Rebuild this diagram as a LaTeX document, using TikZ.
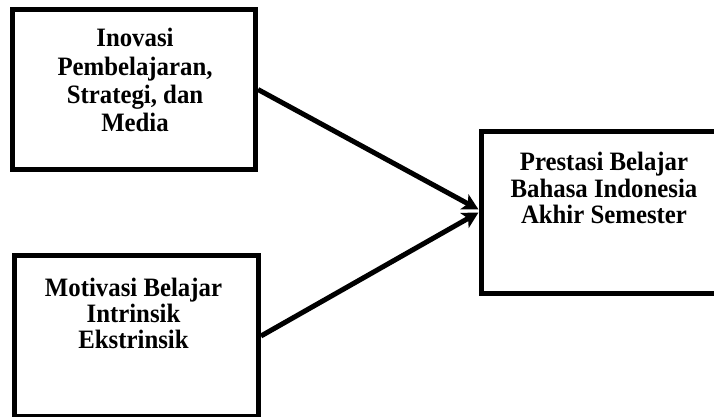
\documentclass[tikz,border=0pt]{standalone}
\usepackage{fontspec}
\setmainfont{Liberation Serif}
\usetikzlibrary{arrows.meta,positioning}
\begin{document}
\begin{tikzpicture}[x=1pt, y=-1pt,
		kotak/.style={draw, line width=5pt, inner sep=0pt},
		teks/.style={align=center, inner sep=0pt, yscale=1.07, transform shape, font=\fontsize{24.8pt}{#1}\selectfont\bfseries},
		panah/.style={line width=5pt, -{Stealth[length=16pt, width=17pt, inset=4pt]}}]
		\useasboundingbox (0,0) rectangle (714,417);
		\node[kotak, minimum width=243pt, minimum height=160pt] (inovasi) at (134,89.5) {};
		\node[kotak, minimum width=244pt, minimum height=161pt] (motivasi) at (136.5,336) {};
		\node[kotak, minimum width=237pt, minimum height=162pt] (prestasi) at (599.5,212.5) {};
		\node[teks=26.4pt, below=21.3pt of inovasi.north, xshift=1pt] (teksinovasi) {Inovasi\\Pembelajaran,\\Strategi, dan\\Media};
		\node[teks=24.2pt, below=25pt of motivasi.north, xshift=-3pt] (teksmotivasi) {Motivasi Belajar\\Intrinsik\\Ekstrinsik};
		\node[teks=24.6pt, below=23.3pt of prestasi.north, xshift=4.5pt] (teksprestasi) {Prestasi Belajar\\Bahasa Indonesia\\Akhir Semester};
		\draw[panah] (inovasi.east) -- ([yshift=3pt]prestasi.west);
		\draw[panah] (motivasi.east) -- (prestasi.west);
\end{tikzpicture}
\end{document}
